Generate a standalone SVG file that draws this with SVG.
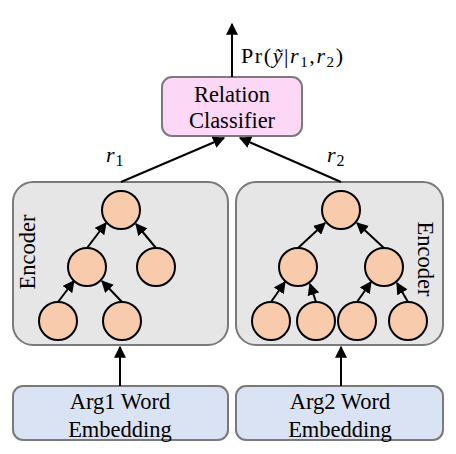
<svg xmlns="http://www.w3.org/2000/svg" width="456" height="454" viewBox="0 0 456 454">
<style>
.box{stroke:#7a7a7a;stroke-width:2}
.enc{fill:#e6e6e6}
.cls{fill:#fdd7f6}
.emb{fill:#dae3f3}
.n{fill:#f8cbad;stroke:#000;stroke-width:2}
text{font-family:'Liberation Serif','DejaVu Serif','Times New Roman',serif;fill:#000}
.t{font-size:22.5px}
.m{font-size:22px}
.c{stroke:#000;stroke-width:2;fill:none}
</style>
<defs>
<marker id="ah" viewBox="0 0 10 10" refX="9" refY="5" markerWidth="6" markerHeight="6" orient="auto" markerUnits="strokeWidth">
<path d="M0,0 L10,5 L0,10 z" fill="#000"/>
</marker>
</defs>
<g id="classifier">
<rect class="box cls" x="162" y="77" width="140" height="59" rx="10"/>
<text class="t" x="232" y="102" text-anchor="middle">Relation</text>
<text class="t" x="232" y="128" text-anchor="middle">Classifier</text>
</g>
<g id="encoder1">
<rect class="box enc" x="13" y="182" width="215" height="163" rx="20"/>
<text class="t" transform="translate(35,252) rotate(-90)" text-anchor="middle">Encoder</text>
<circle class="n" cx="121" cy="210" r="19"/>
<circle class="n" cx="87" cy="267" r="19"/>
<circle class="n" cx="156" cy="267" r="19"/>
<circle class="n" cx="58" cy="321" r="19"/>
<circle class="n" cx="122" cy="321" r="19"/>
</g>
<g id="encoder2">
<rect class="box enc" x="236" y="182" width="207" height="163" rx="20"/>
<text class="t" transform="translate(418,259) rotate(90)" text-anchor="middle">Encoder</text>
<circle class="n" cx="341" cy="210" r="19"/>
<circle class="n" cx="298" cy="267" r="19"/>
<circle class="n" cx="384" cy="267" r="19"/>
<circle class="n" cx="271" cy="321" r="19"/>
<circle class="n" cx="316" cy="321" r="19"/>
<circle class="n" cx="357" cy="321" r="19"/>
<circle class="n" cx="408" cy="321" r="19"/>
</g>
<g id="emb1">
<rect class="box emb" x="13" y="386" width="215" height="54" rx="10"/>
<text class="t" x="120" y="409" text-anchor="middle">Arg1 Word</text>
<text class="t" x="120" y="437" text-anchor="middle">Embedding</text>
</g>
<g id="emb2">
<rect class="box emb" x="236" y="386" width="207" height="54" rx="10"/>
<text class="t" x="340" y="409" text-anchor="middle">Arg2 Word</text>
<text class="t" x="340" y="437" text-anchor="middle">Embedding</text>
</g>
<g id="connectors">
<line class="c" x1="232" y1="77" x2="232" y2="24" marker-end="url(#ah)"/>
<line class="c" x1="121" y1="182" x2="224" y2="138" marker-end="url(#ah)"/>
<line class="c" x1="341" y1="182" x2="240" y2="138" marker-end="url(#ah)"/>
<line class="c" x1="120" y1="386" x2="120" y2="347" marker-end="url(#ah)"/>
<line class="c" x1="341" y1="386" x2="341" y2="347" marker-end="url(#ah)"/>
<line class="c" x1="87" y1="248" x2="106" y2="223" marker-end="url(#ah)"/>
<line class="c" x1="156" y1="248" x2="136" y2="224" marker-end="url(#ah)"/>
<line class="c" x1="58" y1="302" x2="74" y2="281" marker-end="url(#ah)"/>
<line class="c" x1="122" y1="302" x2="102" y2="281" marker-end="url(#ah)"/>
<line class="c" x1="298" y1="248" x2="325" y2="223" marker-end="url(#ah)"/>
<line class="c" x1="384" y1="248" x2="357" y2="223" marker-end="url(#ah)"/>
<line class="c" x1="271" y1="302" x2="285" y2="282" marker-end="url(#ah)"/>
<line class="c" x1="316" y1="302" x2="310" y2="284" marker-end="url(#ah)"/>
<line class="c" x1="357" y1="302" x2="371" y2="282" marker-end="url(#ah)"/>
<line class="c" x1="408" y1="302" x2="397" y2="283" marker-end="url(#ah)"/>
</g>
<g id="labels">
<text class="m" x="241" y="63" textLength="102" lengthAdjust="spacing">Pr(<tspan font-style="italic">ỹ</tspan>|<tspan font-style="italic">r</tspan><tspan font-size="15" dy="4">1</tspan><tspan dy="-4">,</tspan><tspan font-style="italic">r</tspan><tspan font-size="15" dy="4">2</tspan><tspan dy="-4">)</tspan></text>
<text class="m" x="106" y="162" font-style="italic">r<tspan font-size="16" dy="4" dx="1" font-style="normal">1</tspan></text>
<text class="m" x="327" y="162" font-style="italic">r<tspan font-size="16" dy="4" dx="1" font-style="normal">2</tspan></text>
</g>
</svg>
